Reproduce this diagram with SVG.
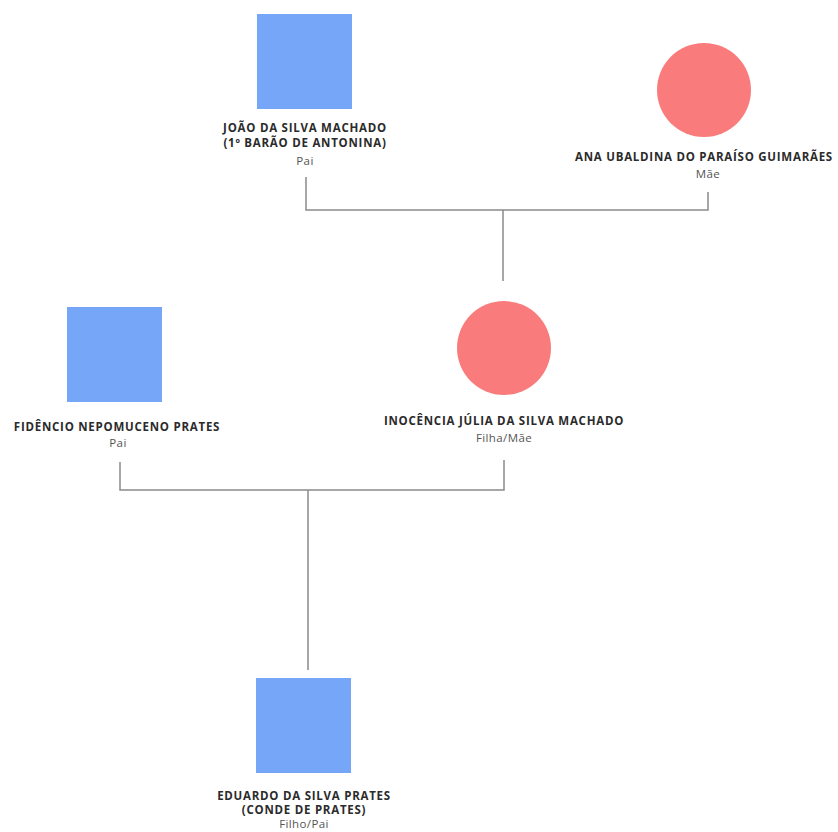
<svg xmlns="http://www.w3.org/2000/svg" width="838" height="832" viewBox="0 0 838 832">
<style>
.m{fill:#76a6f8}
.f{fill:#fa7b7b}
.n{font-family:"Open Sans","Liberation Sans",sans-serif;font-weight:bold;font-size:11.5px;letter-spacing:0.75px;fill:#2b2b2b;text-anchor:middle}
.r{font-family:"Open Sans","Liberation Sans",sans-serif;font-size:11.5px;letter-spacing:0.4px;fill:#555;text-anchor:middle}
.c{fill:none;stroke:#8a8a8a;stroke-width:1.5}
</style>
<rect width="838" height="832" fill="#fff"/>
<g id="connectors">
<path class="c" d="M306 177V210H708V192"/>
<path class="c" d="M503 210V281"/>
<path class="c" d="M120 462V490H504V460"/>
<path class="c" d="M308 490V670"/>
</g>
<g id="joao">
<rect class="m" x="257" y="14" width="95" height="95"/>
<text class="n" x="305" y="132">JOÃO DA SILVA MACHADO</text>
<text class="n" x="305" y="147">(1º BARÃO DE ANTONINA)</text>
<text class="r" x="305" y="165">Pai</text>
</g>
<g id="ana">
<circle class="f" cx="704" cy="90" r="47"/>
<text class="n" x="704" y="161">ANA UBALDINA DO PARAÍSO GUIMARÃES</text>
<text class="r" x="708" y="178">Mãe</text>
</g>
<g id="fidencio">
<rect class="m" x="67" y="307" width="95" height="95"/>
<text class="n" x="117" y="431">FIDÊNCIO NEPOMUCENO PRATES</text>
<text class="r" x="118" y="447">Pai</text>
</g>
<g id="inocencia">
<circle class="f" cx="504" cy="348" r="47"/>
<text class="n" x="504" y="425">INOCÊNCIA JÚLIA DA SILVA MACHADO</text>
<text class="r" x="504" y="442">Filha/Mãe</text>
</g>
<g id="eduardo">
<rect class="m" x="256" y="678" width="95" height="95"/>
<text class="n" x="304" y="800">EDUARDO DA SILVA PRATES</text>
<text class="n" x="304" y="814">(CONDE DE PRATES)</text>
<text class="r" x="304" y="828">Filho/Pai</text>
</g>
</svg>
